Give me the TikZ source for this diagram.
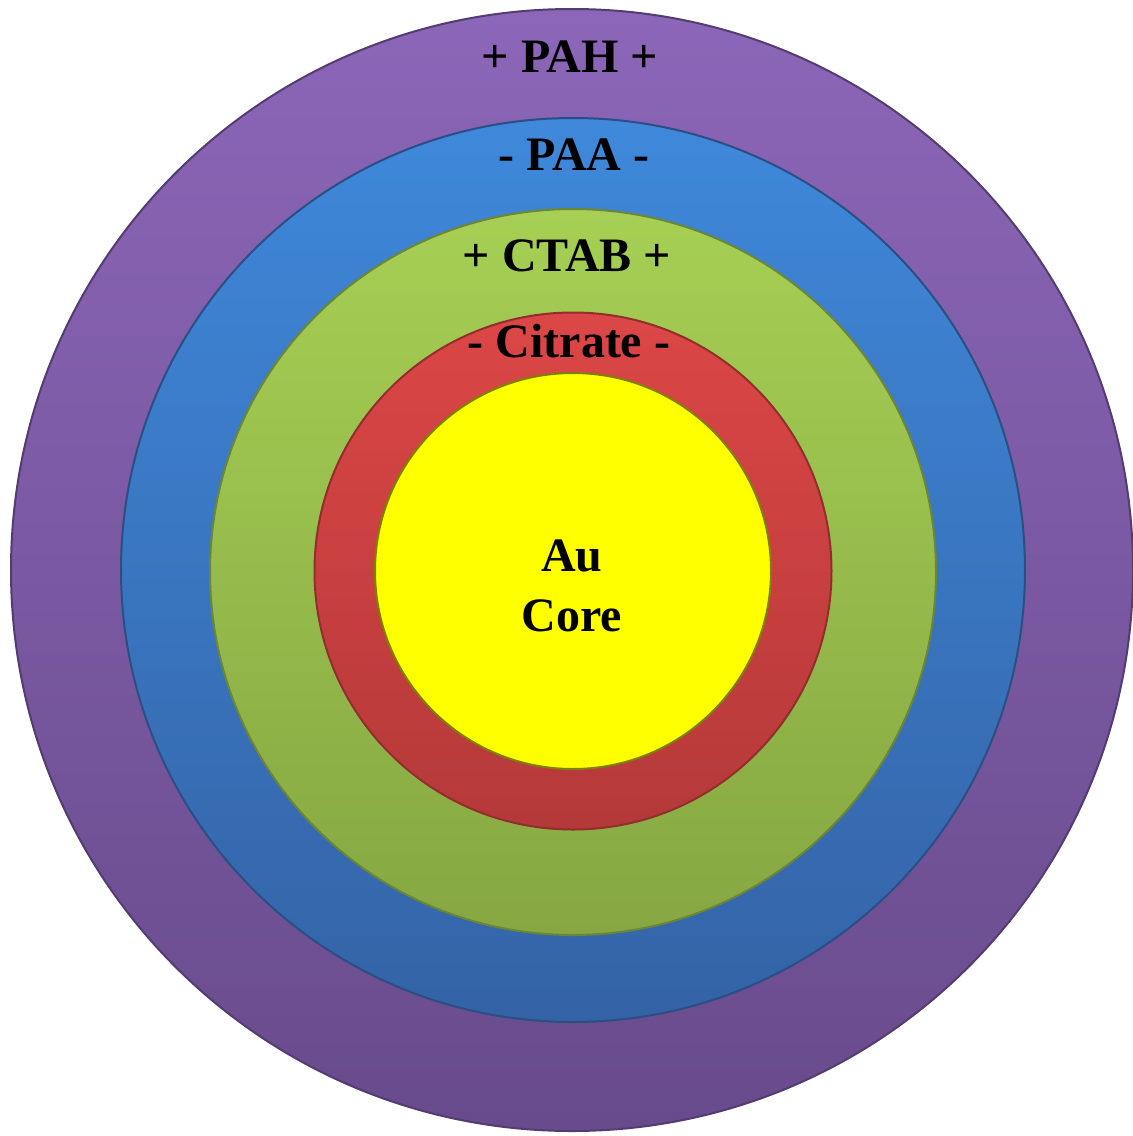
\documentclass[tikz,border=0pt]{standalone}
\usepackage{fontspec}
\setmainfont{Liberation Serif}
\usepackage{tikz}
\definecolor{pahtop}{HTML}{8C66B8}
\definecolor{pahbot}{HTML}{684B8C}
\definecolor{paatop}{HTML}{3F88DA}
\definecolor{paabot}{HTML}{3463A6}
\definecolor{ctabtop}{HTML}{A6CF54}
\definecolor{ctabbot}{HTML}{86A742}
\definecolor{cittop}{HTML}{DC4646}
\definecolor{citbot}{HTML}{B53939}
\definecolor{gold}{HTML}{FFFF00}
\tikzset{%
  shell/.style  = {circle, inner sep=0pt, line width=2pt},%
  pah/.style    = {shell, draw=pahbot!80!black, top color=pahtop, bottom color=pahbot},%
  paa/.style    = {shell, draw=paabot!80!black, top color=paatop, bottom color=paabot},%
  ctab/.style   = {shell, draw=ctabbot!80!black, top color=ctabtop, bottom color=ctabbot},%
  cit/.style    = {shell, draw=citbot!80!black, top color=cittop, bottom color=citbot},%
  core/.style   = {shell, draw=gold!50!black, fill=gold},%
  tag/.style    = {font=\fontsize{48}{60}\selectfont\bfseries, align=center, inner sep=0pt}%
}

\begin{document}
\begin{tikzpicture}[x=1pt,y=-1pt]
  \useasboundingbox (0,0) rectangle (1133,1136);
  % shells, outer to inner
  \node [pah,  minimum size=1122pt] (pahshell)  at (572,570) {};
  \node [paa,  minimum size=904pt]  (paashell)  at (573,570) {};
  \node [ctab, minimum size=726pt]  (ctabshell) at (573,572) {};
  \node [cit,  minimum size=517pt]  (citshell)  at (573,571) {};
  \node [core, minimum size=396pt]  (auc)       at (573,571) {};
  % labels
  \node [tag] (pahlab)  at (570,57)  {+ PAH +};
  \node [tag] (paalab)  at (574,155) {- PAA -};
  \node [tag] (ctablab) at (567,256) {+ CTAB +};
  \node [tag] (citlab)  at (569,341) {- Citrate -};
  \node [tag] (aulab)   at (572,586) {Au\\Core};
\end{tikzpicture}
\end{document}
